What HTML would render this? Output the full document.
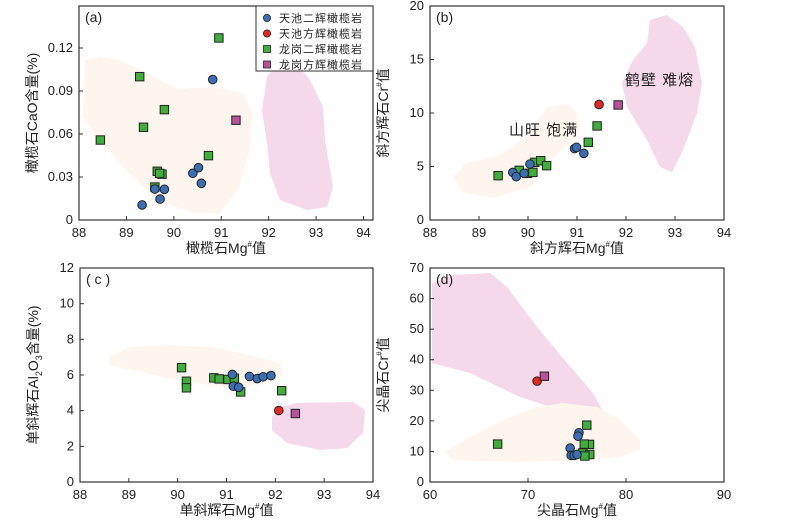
<!DOCTYPE html>
<html><head><meta charset="utf-8"><style>
body{margin:0;background:#fff;}
svg{display:block;font-family:"Liberation Sans","Noto Sans CJK SC",sans-serif;}
</style></head><body>
<svg id="c" width="800" height="523" viewBox="0 0 800 523" xmlns="http://www.w3.org/2000/svg"></svg>
<script>
// ---- data ----
const aBlueX=[89.33,89.71,89.8,89.6,90.58,90.4,90.52,90.82];
const aBlueY=[0.0105,0.0146,0.0214,0.0216,0.0256,0.0326,0.0365,0.098];
const aGreenX=[90.95,89.28,89.8,89.36,88.45,90.73,89.65,89.75,89.7,89.6];
const aGreenY=[0.127,0.100,0.077,0.0647,0.0558,0.0449,0.034,0.032,0.0325,0.023];
const aPinkX=[91.31];const aPinkY=[0.0696];
const bBlueX=[89.69,89.76,89.92,90.04,90.95,90.99,91.14];
const bBlueY=[4.45,4.05,4.36,5.23,6.67,6.79,6.23];
const bRedX=[91.45];const bRedY=[10.8];
const bGreenX=[89.39,89.82,89.99,90.1,90.14,90.26,90.38,91.23,91.41];
const bGreenY=[4.14,4.64,4.36,4.45,5.39,5.54,5.08,7.26,8.79];
const bPinkX=[91.84];const bPinkY=[10.75];
const cBlueX=[91.12,91.14,91.25,91.47,91.63,91.75,91.91];
const cBlueY=[6.03,5.37,5.31,5.92,5.8,5.9,5.97];
const cRedX=[92.07];const cRedY=[4.01];
const cGreenX=[90.08,90.18,90.18,90.74,90.85,91.03,91.16,91.29,92.13];
const cGreenY=[6.41,5.65,5.28,5.84,5.78,5.75,5.82,5.05,5.12];
const cPinkX=[92.41];const cPinkY=[3.84];
const dBlueX=[75.2,75.1,74.3,74.4,74.7,75.0];
const dBlueY=[16.1,15.0,11.1,8.7,8.7,9.0];
const dRedX=[70.93];const dRedY=[33.0];
const dGreenX=[66.9,76.0,76.28,75.74,75.6,76.3,75.8];
const dGreenY=[12.4,18.6,12.3,12.4,9.5,9.0,8.5];
const dPinkX=[71.67];const dPinkY=[34.6];
const xTicksAB=[88,89,90,91,92,93,94];
const xTicksD=[60,70,80,90];
const yTicksA=["0","0.03","0.06","0.09","0.12"];
const yTicksAv=[0,0.03,0.06,0.09,0.12];
const yTicksB=[0,5,10,15,20];
const yTicksC=[0,2,4,6,8,10,12];
const yTicksD=[0,10,20,30,40,50,60,70];
const legendLabels=["天池二辉橄榄岩","天池方辉橄榄岩","龙岗二辉橄榄岩","龙岗方辉橄榄岩"];

const NS="http://www.w3.org/2000/svg";
const svg=document.getElementById('c');
function mk(tag,attrs,parent){const e=document.createElementNS(NS,tag);for(const k in attrs)e.setAttribute(k,attrs[k]);(parent||svg).appendChild(e);return e;}
const COL={blue:"#3a6fb5",red:"#e8281e",green:"#3fae3a",pink:"#b8509a"};
const BEIGE="#fef5ee",PINK="#f5d9ea";

function panel(id,L,R,T,B,x0,x1,y0,y1){
  const g=mk('g',{});
  
  
  return {g,sx:v=>L+(v-x0)/(x1-x0)*(R-L),sy:v=>B-(v-y0)/(y1-y0)*(B-T),L,R,T,B};
}
function region(p,pts,fill,name){
  const e=mk('path',{d:'M'+pts.map(q=>q.join(',')).join('L')+'Z',fill:fill,stroke:'none'},p.g);
  
  
}
function axes(p,xt,xl,yt,yl,xs,ys,xlabel,ylabelHTML,tag){
  const f=mk('rect',{x:p.L,y:p.T,width:p.R-p.L,height:p.B-p.T,fill:'none',stroke:'#333','stroke-width':1.2},p.g);
  
  
  xt.forEach((v,i)=>{const x=p.sx(v);
    mk('line',{x1:x,x2:x,y1:p.B,y2:p.B-4,stroke:'#333'},p.g);
    const t=mk('text',{x:x,y:p.B+17,'text-anchor':'middle','font-size':13,fill:'#222'},p.g);t.textContent=xl[i];
    
    });
  yt.forEach((v,i)=>{const y=p.sy(v);
    mk('line',{x1:p.L,x2:p.L+4,y1:y,y2:y,stroke:'#333'},p.g);
    const t=mk('text',{x:p.L-6,y:y+4,'text-anchor':'end','font-size':13,fill:'#222'},p.g);t.textContent=yl[i];
    
    });
  const xt2=mk('text',{x:(p.L+p.R)/2,y:p.B+33,'text-anchor':'middle','font-size':14,fill:'#222'},p.g);
  xt2.innerHTML=xlabel;
  
  
  const yx=p.L-42,yy=(p.T+p.B)/2;
  const yt2=mk('text',{x:yx,y:yy,'text-anchor':'middle','font-size':14,fill:'#222',transform:`rotate(-90 ${yx} ${yy})`},p.g);
  yt2.innerHTML=ylabelHTML;
  
  
  const tg=mk('text',{x:p.L+6,y:p.T+16,'font-size':14,fill:'#222'},p.g);tg.textContent=tag;
  
  
}
function pts(p,xs,ys,kind,col,name){
  xs.forEach((v,i)=>{const x=p.sx(v),y=p.sy(ys[i]);let e;
    if(kind==='c')e=mk('circle',{cx:x,cy:y,r:4.3,fill:COL[col],stroke:'#222','stroke-width':1},p.g);
    else e=mk('rect',{x:x-4.2,y:y-4.2,width:8.4,height:8.4,fill:COL[col],stroke:'#222','stroke-width':1},p.g);
    
    });
}
const MG='Mg<tspan font-size="8" dy="-6">#</tspan><tspan dy="6">值</tspan>';
const CR='Cr<tspan font-size="8" dy="-6">#</tspan><tspan dy="6">值</tspan>';

// Panel a
const pa=panel('a',79,373,6,220,88,94.2,0,0.1493);
region(pa,[[85,60],[100,57],[120,60],[147,73],[177,89],[213,87],[243,93],[252,113],[250,147],[240,187],[220,213],[193,213],[157,200],[123,167],[100,140],[83,117]],BEIGE,'region-a-beige');
region(pa,[[280,60],[293,60],[310,80],[323,107],[325,140],[333,187],[327,207],[307,210],[280,200],[270,173],[267,143],[262,110],[267,77]],PINK,'region-a-pink');
axes(pa,xTicksAB,xTicksAB.map(String),yTicksAv,yTicksA,0,0,'橄榄石'+MG,'橄榄石CaO含量(%)','(a)');
pts(pa,aGreenX,aGreenY,'s','green','point-longgang-lherzolite');
pts(pa,aBlueX,aBlueY,'c','blue','point-tianchi-lherzolite');
pts(pa,aPinkX,aPinkY,'s','pink','point-longgang-harzburgite');
// legend
const lg=mk('g',{});


mk('rect',{x:256,y:6,width:117,height:65,fill:'#fff',stroke:'#333','stroke-width':1},lg);
legendLabels.forEach((s,i)=>{const y=18+i*15.5;
  let m;
  if(i<2)m=mk('circle',{cx:267,cy:y,r:3.6,fill:i?COL.red:COL.blue,stroke:'#222','stroke-width':0.8},lg);
  else m=mk('rect',{x:263.5,y:y-3.5,width:7,height:7,fill:i==2?COL.green:COL.pink,stroke:'#222','stroke-width':0.8},lg);
  
  
  const t=mk('text',{x:279,y:y+4,'font-size':11,fill:'#222','letter-spacing':1},lg);t.textContent=s;
  
  });

// Panel b
const pb=panel('b',430,724,6,220,88,94,0,20);
region(pb,[[453,177],[467,163],[500,155],[527,137],[547,107],[567,104],[577,113],[580,127],[573,140],[547,163],[530,187],[493,198],[463,193]],BEIGE,'region-b-beige');
region(pb,[[650,20],[667,15],[683,27],[695,47],[702,83],[697,113],[683,150],[672,172],[660,167],[647,140],[627,107],[622,83],[633,60],[647,43]],PINK,'region-b-pink');
axes(pb,xTicksAB,xTicksAB.map(String),yTicksB,yTicksB.map(String),0,0,'斜方辉石'+MG,'斜方辉石'+CR,'(b)');
[['山旺 饱满',509,135,'label-shanwang'],['鹤壁 难熔',625,85,'label-hebi']].forEach(a=>{
  const t=mk('text',{x:a[1],y:a[2],'font-size':15,fill:'#222','letter-spacing':1},pb.g);t.textContent=a[0];
  
  });
pts(pb,bGreenX,bGreenY,'s','green','point-longgang-lherzolite');
pts(pb,bBlueX,bBlueY,'c','blue','point-tianchi-lherzolite');
pts(pb,bRedX,bRedY,'c','red','point-tianchi-harzburgite');
pts(pb,bPinkX,bPinkY,'s','pink','point-longgang-harzburgite');

// Panel c
const pc=panel('c',80,373,268,482,88,94,0,12);
region(pc,[[110,357],[130,347],[163,345],[213,347],[257,357],[280,363],[283,375],[267,383],[237,388],[207,385],[163,377],[123,368],[110,365]],BEIGE,'region-c-beige');
region(pc,[[280,407],[297,403],[353,402],[365,410],[363,433],[347,448],[320,450],[287,443],[272,430],[272,417]],PINK,'region-c-pink');
axes(pc,xTicksAB,xTicksAB.map(String),yTicksC,yTicksC.map(String),0,0,'单斜辉石'+MG,'单斜辉石Al<tspan font-size="9" dy="4">2</tspan><tspan dy="-4">O</tspan><tspan font-size="9" dy="4">3</tspan><tspan dy="-4">含量(%)</tspan>','( c )');
pts(pc,cGreenX,cGreenY,'s','green','point-longgang-lherzolite');
pts(pc,cBlueX,cBlueY,'c','blue','point-tianchi-lherzolite');
pts(pc,cRedX,cRedY,'c','red','point-tianchi-harzburgite');
pts(pc,cPinkX,cPinkY,'s','pink','point-longgang-harzburgite');

// Panel d
const pd=panel('d',430,724,268,482,60,90,0,70);
region(pd,[[432,283],[453,275],[490,273],[507,287],[537,327],[567,363],[593,393],[602,410],[593,415],[560,410],[520,397],[470,373],[432,363]],PINK,'region-d-pink');
region(pd,[[445,452],[470,437],[503,420],[537,407],[563,403],[597,407],[620,420],[640,440],[640,450],[620,457],[587,460],[520,462],[453,460]],BEIGE,'region-d-beige');
axes(pd,xTicksD,xTicksD.map(String),yTicksD,yTicksD.map(String),0,0,'尖晶石'+MG,'尖晶石'+CR,'(d)');
pts(pd,dGreenX,dGreenY,'s','green','point-longgang-lherzolite');
pts(pd,dBlueX,dBlueY,'c','blue','point-tianchi-lherzolite');
pts(pd,dRedX,dRedY,'c','red','point-tianchi-harzburgite');
pts(pd,dPinkX,dPinkY,'s','pink','point-longgang-harzburgite');
</script>
</body></html>
